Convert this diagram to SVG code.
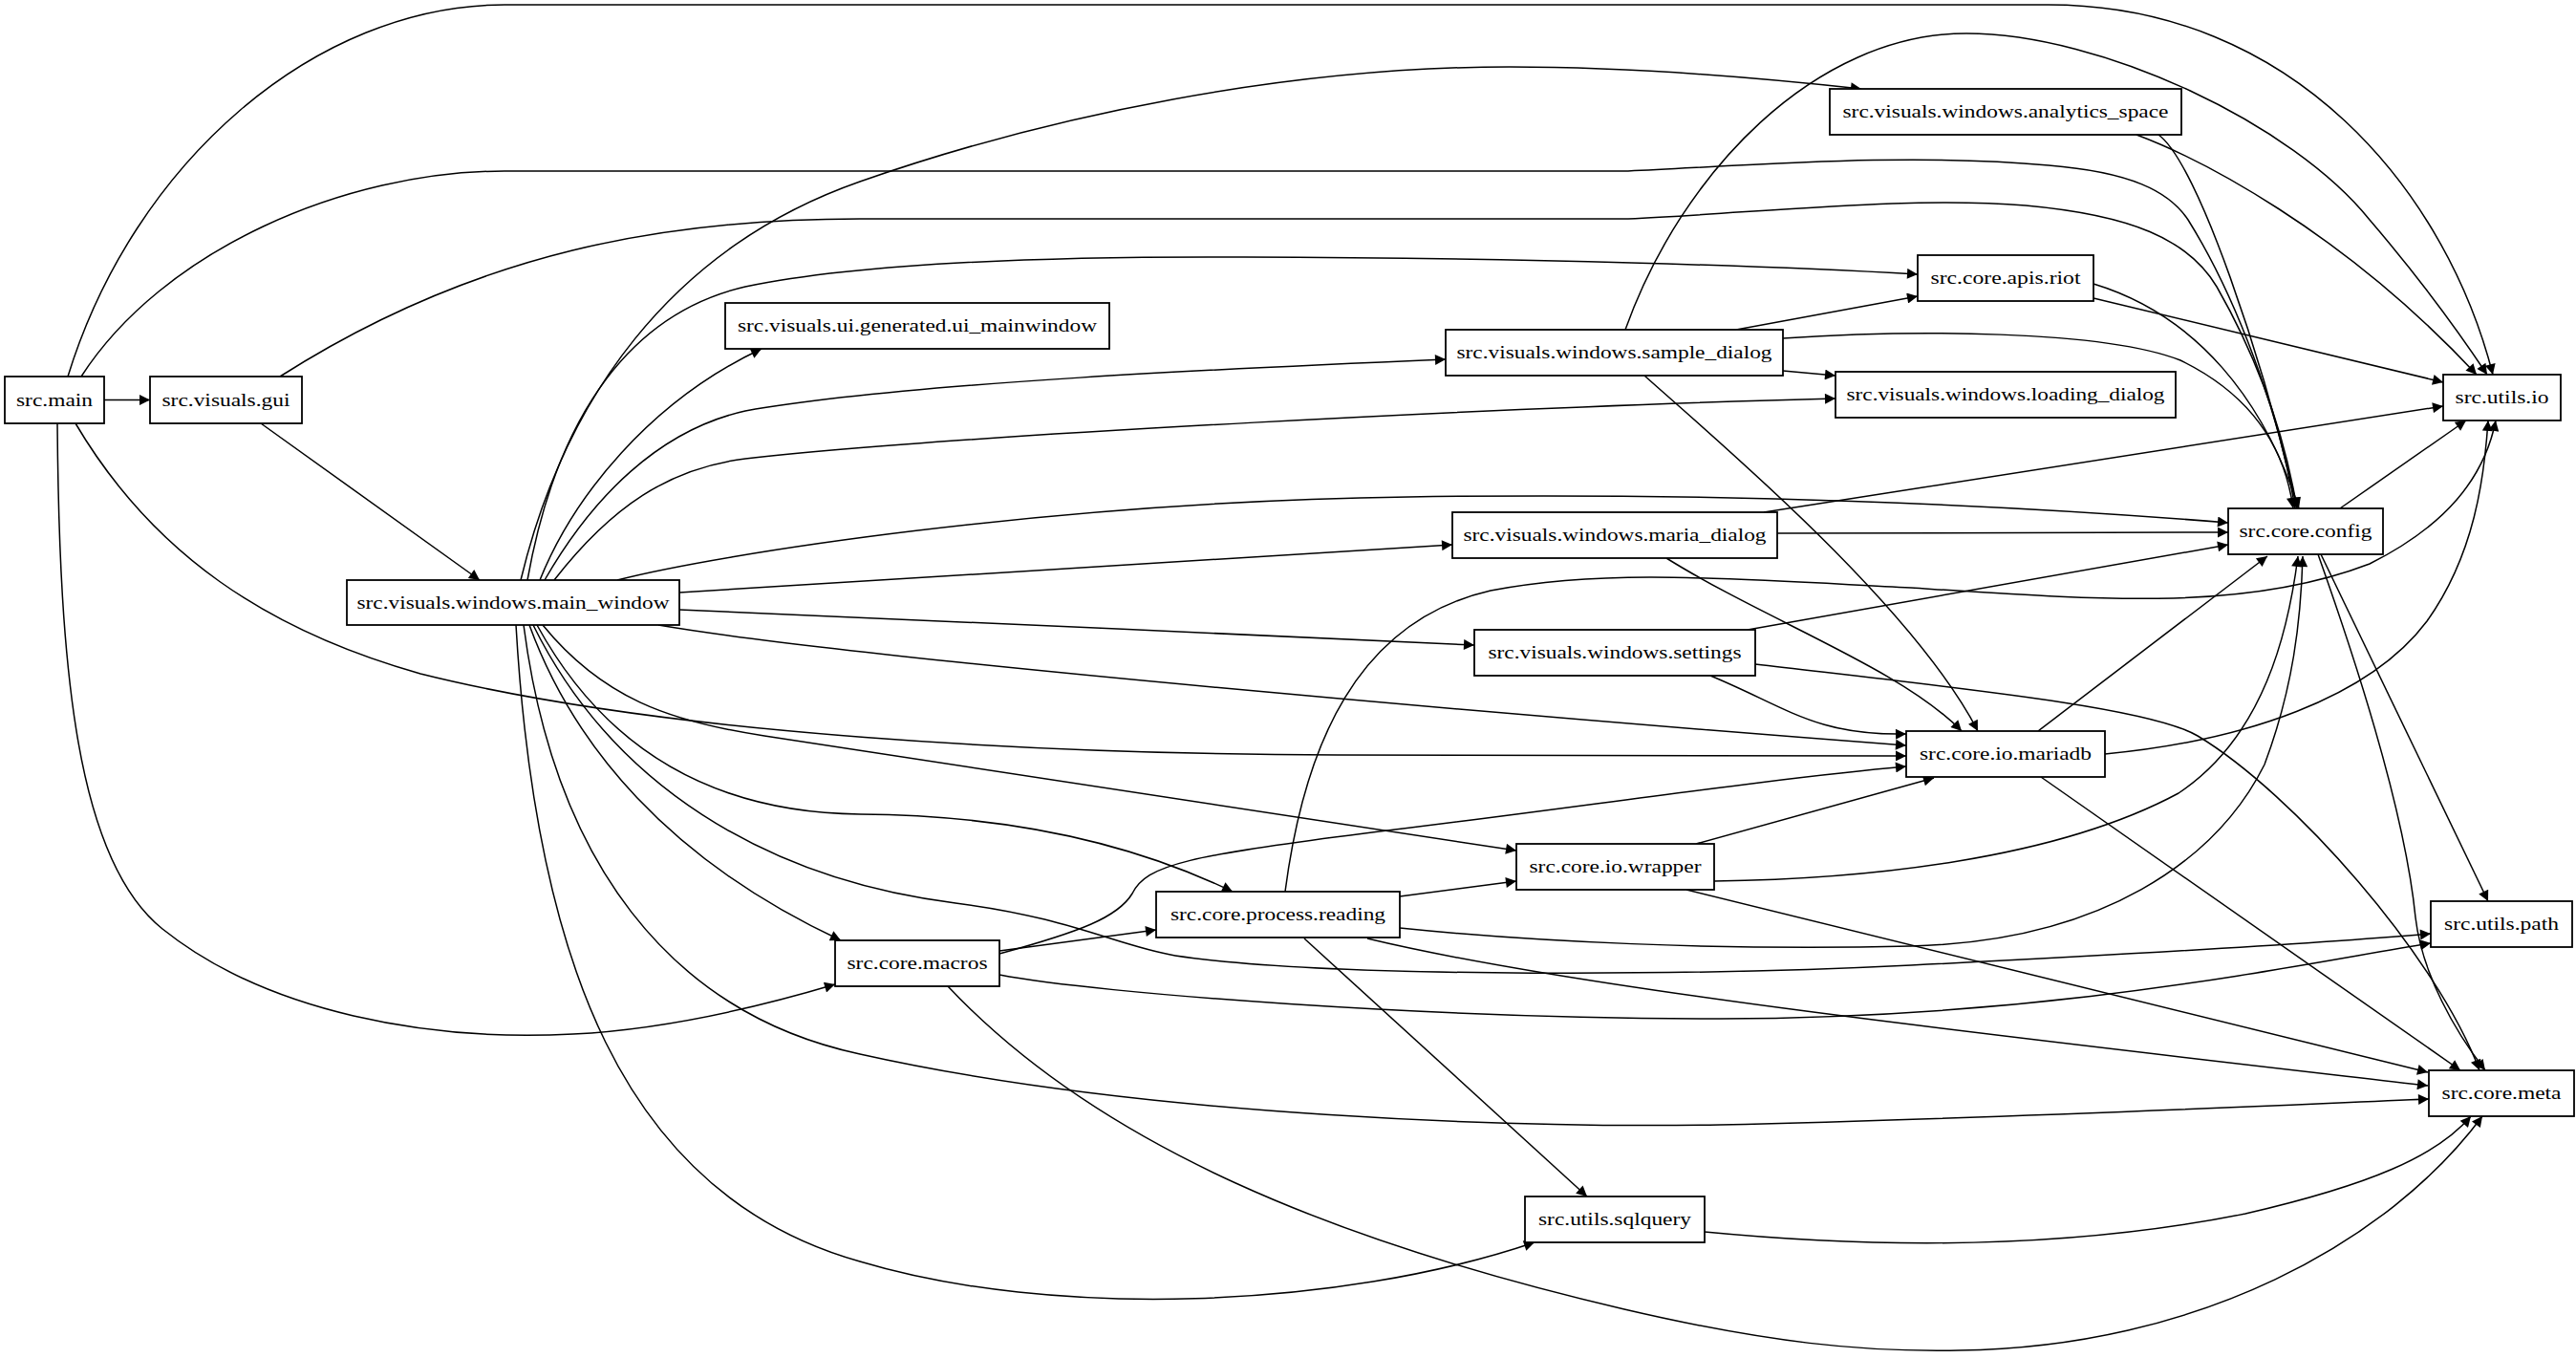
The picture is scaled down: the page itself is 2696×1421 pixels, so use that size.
<svg xmlns="http://www.w3.org/2000/svg" width="2696" height="1421" viewBox="0 0 2696 1421">
<style>
.n rect{fill:#fff;stroke:#000;stroke-width:1.8}
.n text{font-family:"Liberation Serif","Times New Roman",serif;font-size:19px;fill:#000;text-anchor:middle}
.e path{fill:none;stroke:#000;stroke-width:1.5;marker-end:url(#ah)}
</style>
<defs>
<marker id="ah" viewBox="0 0 10 10" refX="10" refY="5" markerUnits="userSpaceOnUse" markerWidth="15" markerHeight="11" orient="auto">
<path d="M0,0 L10,5 L0,10 z" fill="#000"/>
</marker>
</defs>
<rect width="2696" height="1421" fill="#fff"/>
<g id="edges" class="e">
<path d="M109,418.5 L157,418.5"/>
<path d="M71,394 C140,170 330,5 528,5 L2144,5 C2400,5 2560,200 2609,392"/>
<path d="M85,394 C170,262 360,179 528,179 L1704,179 C1850,172 2000,160 2144,173 C2230,180 2270,200 2290,230 C2340,310 2385,430 2402,532"/>
<path d="M293,394 C500,262 700,229 900,229 L1704,229 C1850,222 2000,205 2120,215 C2230,225 2290,250 2320,300 C2360,370 2390,450 2404,532"/>
<path d="M79,443 C160,580 280,660 440,705 C700,770 1100,789 1400,790 L1995,791"/>
<path d="M60,443 C62,700 80,900 170,972 C280,1060 450,1090 600,1082 C700,1077 800,1052 874,1030"/>
<path d="M273,443 L502,607"/>
<path d="M565,607 C600,520 680,420 797,365"/>
<path d="M545,607 C590,420 700,260 900,190 C1100,120 1350,70 1580,70 C1700,70 1830,80 1948,93"/>
<path d="M552,607 C580,450 650,330 780,300 C900,275 1100,268 1302,269 C1600,270 1850,278 2007,287"/>
<path d="M570,607 C620,520 690,450 780,430 C950,400 1300,385 1513,376"/>
<path d="M580,607 C640,530 700,490 780,480 C1000,455 1600,425 1921,417"/>
<path d="M646,607 C750,580 1100,525 1474,520 C1800,515 2100,528 2332,547"/>
<path d="M711,620 C900,608 1200,590 1520,570"/>
<path d="M711,638 C900,647 1300,663 1543,675"/>
<path d="M689,654 C900,690 1600,750 1995,780"/>
<path d="M568,654 C630,730 700,755 800,770 C1100,815 1400,860 1587,890"/>
<path d="M562,654 C620,760 720,850 900,852 C1050,853 1180,880 1290,933"/>
<path d="M554,654 C600,780 700,900 880,984"/>
<path d="M548,654 C580,900 700,1060 900,1103 C1200,1170 1600,1180 1800,1177 C2100,1170 2350,1158 2542,1150"/>
<path d="M540,654 C560,1000 650,1250 900,1320 C1100,1380 1400,1370 1606,1300"/>
<path d="M558,654 C640,820 800,920 1000,945 C1120,960 1170,990 1230,1000 C1400,1025 1800,1020 2000,1010 C2300,995 2450,985 2544,977"/>
<path d="M1046,995 L1210,973"/>
<path d="M1046,998 C1130,975 1170,960 1185,935 C1200,905 1240,895 1460,868 C1650,845 1850,815 1995,802"/>
<path d="M1046,1020 C1150,1040 1500,1066 1800,1066 C2150,1065 2400,1010 2544,987"/>
<path d="M992,1032 C1150,1200 1400,1300 1700,1370 C1850,1405 1950,1415 2050,1413 C2300,1410 2500,1300 2598,1168"/>
<path d="M1465,938 L1587,922"/>
<path d="M1345,933 C1365,780 1420,650 1560,618 C1680,595 1800,605 2000,615 C2200,628 2350,640 2480,590 C2560,550 2600,500 2612,440"/>
<path d="M1465,971 C1600,985 1800,995 2000,990 C2200,985 2320,900 2370,800 C2400,720 2408,650 2410,582"/>
<path d="M1431,982 C1650,1035 2100,1085 2541,1136"/>
<path d="M1365,982 L1661,1252"/>
<path d="M1775,883 L2024,814"/>
<path d="M1794,922 C1950,920 2150,900 2280,830 C2370,770 2395,660 2405,582"/>
<path d="M1765,931 L2541,1122"/>
<path d="M2133,765 L2373,582"/>
<path d="M2203,789 C2350,775 2480,730 2540,650 C2590,580 2600,500 2604,440"/>
<path d="M2136,813 L2575,1120"/>
<path d="M1817,345 L2007,310"/>
<path d="M1866,354 C2000,345 2200,345 2282,377 C2350,410 2390,460 2400,532"/>
<path d="M1866,388 L1921,393"/>
<path d="M1701,345 C1760,180 1900,35 2058,35 C2200,35 2400,130 2480,230 C2540,300 2575,350 2603,392"/>
<path d="M1721,393 C1790,455 2000,630 2070,765"/>
<path d="M2259,141 C2300,170 2370,380 2404,532"/>
<path d="M2236,141 C2300,165 2450,240 2592,392"/>
<path d="M2191,297 C2300,330 2370,420 2406,532"/>
<path d="M2191,312 L2557,400"/>
<path d="M1846,536 L2557,425"/>
<path d="M1860,558 L2332,557"/>
<path d="M1744,584 C1850,650 1990,700 2053,765"/>
<path d="M1829,659 L2332,570"/>
<path d="M1790,707 C1870,740 1900,770 1995,768"/>
<path d="M1837,695 C2050,720 2250,740 2300,770 C2400,830 2550,1000 2595,1120"/>
<path d="M2449,532 L2581,440"/>
<path d="M2429,580 L2604,943"/>
<path d="M2426,580 C2490,760 2520,880 2528,960 C2535,1020 2570,1080 2601,1120"/>
<path d="M1784,1289 C1950,1305 2150,1310 2350,1270 C2480,1240 2550,1210 2586,1168"/>
</g>
<g id="n_main" class="n"><rect x="5" y="394" width="104" height="49"/><text x="57" y="425" textLength="80" lengthAdjust="spacingAndGlyphs">src.main</text></g>
<g id="n_gui" class="n"><rect x="157" y="394" width="159" height="49"/><text x="236.5" y="425" textLength="134" lengthAdjust="spacingAndGlyphs">src.visuals.gui</text></g>
<g id="n_main_window" class="n"><rect x="363" y="607" width="348" height="47"/><text x="537" y="637" textLength="327" lengthAdjust="spacingAndGlyphs">src.visuals.windows.main_window</text></g>
<g id="n_ui_mainwindow" class="n"><rect x="759" y="317" width="402" height="48"/><text x="960" y="347" textLength="376" lengthAdjust="spacingAndGlyphs">src.visuals.ui.generated.ui_mainwindow</text></g>
<g id="n_macros" class="n"><rect x="874" y="984" width="172" height="48"/><text x="960" y="1014" textLength="147" lengthAdjust="spacingAndGlyphs">src.core.macros</text></g>
<g id="n_reading" class="n"><rect x="1210" y="933" width="255" height="48"/><text x="1337.5" y="963" textLength="225" lengthAdjust="spacingAndGlyphs">src.core.process.reading</text></g>
<g id="n_sample_dialog" class="n"><rect x="1513" y="345" width="353" height="48"/><text x="1689.5" y="375" textLength="330" lengthAdjust="spacingAndGlyphs">src.visuals.windows.sample_dialog</text></g>
<g id="n_maria_dialog" class="n"><rect x="1520" y="536" width="340" height="48"/><text x="1690" y="566" textLength="317" lengthAdjust="spacingAndGlyphs">src.visuals.windows.maria_dialog</text></g>
<g id="n_settings" class="n"><rect x="1543" y="659" width="294" height="48"/><text x="1690" y="689" textLength="265" lengthAdjust="spacingAndGlyphs">src.visuals.windows.settings</text></g>
<g id="n_wrapper" class="n"><rect x="1587" y="883" width="207" height="48"/><text x="1690.5" y="913" textLength="180" lengthAdjust="spacingAndGlyphs">src.core.io.wrapper</text></g>
<g id="n_sqlquery" class="n"><rect x="1596" y="1252" width="188" height="48"/><text x="1690" y="1282" textLength="160" lengthAdjust="spacingAndGlyphs">src.utils.sqlquery</text></g>
<g id="n_analytics_space" class="n"><rect x="1915" y="93" width="368" height="48"/><text x="2099" y="123" textLength="341" lengthAdjust="spacingAndGlyphs">src.visuals.windows.analytics_space</text></g>
<g id="n_riot" class="n"><rect x="2007" y="267" width="184" height="48"/><text x="2099" y="297" textLength="157" lengthAdjust="spacingAndGlyphs">src.core.apis.riot</text></g>
<g id="n_loading_dialog" class="n"><rect x="1921" y="389" width="356" height="48"/><text x="2099" y="419" textLength="333" lengthAdjust="spacingAndGlyphs">src.visuals.windows.loading_dialog</text></g>
<g id="n_mariadb" class="n"><rect x="1995" y="765" width="208" height="48"/><text x="2099" y="795" textLength="180" lengthAdjust="spacingAndGlyphs">src.core.io.mariadb</text></g>
<g id="n_config" class="n"><rect x="2332" y="532" width="162" height="48"/><text x="2413" y="562" textLength="139" lengthAdjust="spacingAndGlyphs">src.core.config</text></g>
<g id="n_utils_io" class="n"><rect x="2557" y="392" width="123" height="48"/><text x="2618.5" y="422" textLength="98" lengthAdjust="spacingAndGlyphs">src.utils.io</text></g>
<g id="n_utils_path" class="n"><rect x="2544" y="943" width="148" height="48"/><text x="2618" y="973" textLength="120" lengthAdjust="spacingAndGlyphs">src.utils.path</text></g>
<g id="n_meta" class="n"><rect x="2542" y="1120" width="152" height="48"/><text x="2618" y="1150" textLength="125" lengthAdjust="spacingAndGlyphs">src.core.meta</text></g>
</svg>
